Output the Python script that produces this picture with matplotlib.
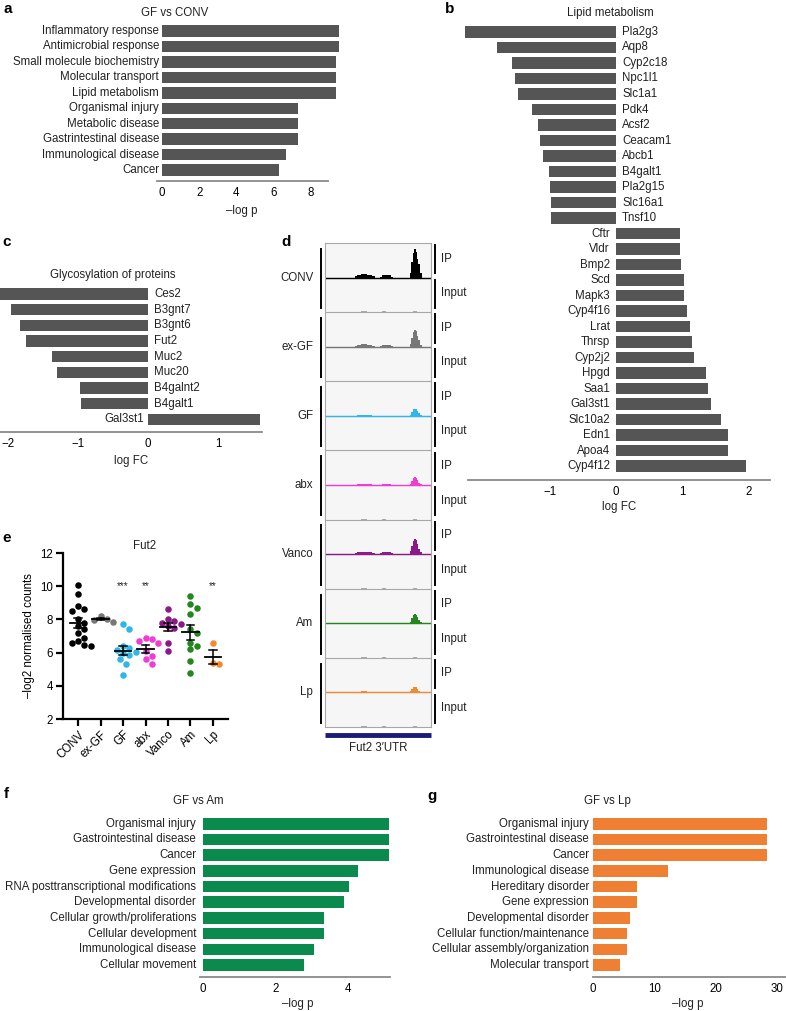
import matplotlib
matplotlib.use('Agg')
import matplotlib.pyplot as plt
import numpy as np

plt.rcParams['font.family'] = ['Liberation Sans', 'DejaVu Sans']
plt.rcParams['font.size'] = 8.3
plt.rcParams['text.color'] = '#222222'

W, H = 786, 1011

# panel a - GF vs CONV
a_terms = ['Inflammatory response', 'Antimicrobial response', 'Small molecule biochemistry',
           'Molecular transport', 'Lipid metabolism', 'Organismal injury', 'Metabolic disease',
           'Gastrintestinal disease', 'Immunological disease', 'Cancer']
a_logp = [9.5, 9.5, 9.35, 9.35, 9.35, 7.3, 7.3, 7.3, 6.67, 6.3]

# panel b - lipid metabolism
b_genes = ['Pla2g3', 'Aqp8', 'Cyp2c18', 'Npc1l1', 'Slc1a1', 'Pdk4', 'Acsf2', 'Ceacam1', 'Abcb1',
           'B4galt1', 'Pla2g15', 'Slc16a1', 'Tnsf10', 'Cftr', 'Vldr', 'Bmp2', 'Scd', 'Mapk3',
           'Cyp4f16', 'Lrat', 'Thrsp', 'Cyp2j2', 'Hpgd', 'Saa1', 'Gal3st1', 'Slc10a2', 'Edn1',
           'Apoa4', 'Cyp4f12']
b_logfc = [-2.27, -1.80, -1.56, -1.52, -1.48, -1.27, -1.18, -1.15, -1.10, -1.01, -0.99, -0.98,
           -0.98, 0.96, 0.97, 0.98, 1.02, 1.03, 1.07, 1.12, 1.15, 1.18, 1.36, 1.39, 1.43, 1.58,
           1.68, 1.69, 1.95]

# panel c - glycosylation of proteins
c_genes = ['Ces2', 'B3gnt7', 'B3gnt6', 'Fut2', 'Muc2', 'Muc20', 'B4galnt2', 'B4galt1', 'Gal3st1']
c_logfc = [-2.2, -1.96, -1.83, -1.74, -1.37, -1.30, -0.97, -0.96, 1.6]

# panel d - tracks
samples = ['CONV', 'ex-GF', 'GF', 'abx', 'Vanco', 'Am', 'Lp']
sample_colors = ['#000000', '#777777', '#2fb6ea', '#f23bd6', '#8b1a88', '#23861f', '#f28a30']
trk_x = [28, 30, 34, 40, 44, 47, 52, 54, 58, 62, 64, 80, 81.5, 83, 84.3, 85.5, 86.8, 88.2, 89.6, 91.2]
ip_cov = {
    'CONV':  [0.04, 0.08, 0.09, 0.08, 0.04, 0, 0.03, 0.06, 0.06, 0.03, 0, 0.12, 0.45, 0.7, 0.82, 0.75, 0.55, 0.38, 0.12, 0],
    'ex-GF': [0.03, 0.06, 0.07, 0.06, 0.03, 0, 0.02, 0.05, 0.05, 0.02, 0, 0.08, 0.25, 0.42, 0.48, 0.45, 0.3, 0.2, 0.06, 0],
    'GF':    [0, 0.02, 0.03, 0.02, 0, 0, 0, 0, 0, 0, 0, 0.03, 0.12, 0.2, 0.21, 0.2, 0.15, 0.08, 0.02, 0],
    'abx':   [0, 0.02, 0.03, 0.02, 0, 0, 0, 0.02, 0.02, 0, 0, 0.04, 0.12, 0.2, 0.22, 0.2, 0.14, 0.07, 0.02, 0],
    'Vanco': [0.03, 0.05, 0.06, 0.05, 0.03, 0, 0.02, 0.05, 0.05, 0.02, 0, 0.08, 0.25, 0.38, 0.44, 0.4, 0.28, 0.15, 0.05, 0],
    'Am':    [0, 0, 0, 0, 0, 0, 0, 0, 0, 0, 0, 0.04, 0.15, 0.25, 0.28, 0.25, 0.18, 0.1, 0.03, 0],
    'Lp':    [0, 0.02, 0.03, 0.02, 0, 0, 0, 0.01, 0.01, 0, 0, 0.03, 0.1, 0.15, 0.17, 0.15, 0.1, 0.05, 0.01, 0],
}
input_cov = [0, 0, 0.02, 0, 0, 0, 0, 0.02, 0, 0, 0, 0, 0, 0.02, 0.02, 0.02, 0, 0, 0, 0]

# panel e - Fut2 counts
e_vals = {
    'CONV':  [10.1, 9.55, 8.8, 8.6, 8.5, 8.0, 7.8, 7.6, 7.4, 7.2, 6.9, 6.7, 6.55, 6.45, 6.4],
    'ex-GF': [8.2, 8.05, 7.95, 7.85],
    'GF':    [7.7, 7.4, 6.4, 6.3, 6.15, 6.05, 5.95, 5.85, 5.6, 5.3, 4.65],
    'abx':   [6.9, 6.8, 6.7, 6.55, 6.1, 5.8, 5.6, 5.3],
    'Vanco': [8.6, 8.0, 7.9, 7.8, 7.7, 7.6, 7.5, 6.6, 6.1],
    'Am':    [9.4, 8.9, 8.7, 8.3, 7.4, 7.2, 6.6, 6.4, 6.2, 5.5, 4.75],
    'Lp':    [6.6, 5.35, 5.3],
}
e_stars = ['', '', '***', '**', '', '', '**']

# panel f - GF vs Am
f_terms = ['Organismal injury', 'Gastrointestinal disease', 'Cancer', 'Gene expression',
           'RNA posttranscriptional modifications', 'Developmental disorder',
           'Cellular growth/proliferations', 'Cellular development', 'Immunological disease',
           'Cellular movement']
f_logp = [5.13, 5.13, 5.13, 4.27, 4.03, 3.88, 3.33, 3.33, 3.05, 2.78]

# panel g - GF vs Lp
g_terms = ['Organismal injury', 'Gastrointestinal disease', 'Cancer', 'Immunological disease',
           'Hereditary disorder', 'Gene expression', 'Developmental disorder',
           'Cellular function/maintenance', 'Cellular assembly/organization', 'Molecular transport']
g_logp = [28.4, 28.4, 28.4, 12.2, 7.2, 7.2, 6.05, 5.6, 5.6, 4.4]

BAR_GREY = '#555555'
AXIS_GREY = '#8a8a8a'

fig = plt.figure(figsize=(W / 100, H / 100), dpi=100)


def rect(l, t, r, b):
    return [l / W, 1 - b / H, (r - l) / W, (b - t) / H]


def ftext(x, y, s, **kw):
    kw.setdefault('ha', 'center')
    kw.setdefault('va', 'center')
    fig.text(x / W, 1 - y / H, s, **kw)


def bar_axes(box, xlim, ylim, bounds, ticks):
    ax = fig.add_axes(rect(*box))
    ax.set_xlim(*xlim)
    ax.set_ylim(*ylim)
    for s in ['top', 'right', 'left']:
        ax.spines[s].set_visible(False)
    ax.spines['bottom'].set_color(AXIS_GREY)
    ax.spines['bottom'].set_linewidth(1.3)
    ax.spines['bottom'].set_bounds(*bounds)
    ax.set_yticks([])
    ax.set_xticks(ticks)
    ax.tick_params(axis='x', length=0, pad=4, labelsize=8.3)
    ax.patch.set_alpha(0)
    return ax


def term_panel(box, xlim, ylim, bounds, ticks, terms, vals, color, lab_off):
    ax = bar_axes(box, xlim, ylim, bounds, ticks)
    y = np.arange(len(terms))
    ax.barh(y, vals, height=0.74, color=color, clip_on=False)
    for yi, t in zip(y, terms):
        ax.text(lab_off, yi, t, ha='right', va='center', fontsize=8.3)
    return ax


# a
term_panel((157, 23, 345, 181), (-0.27, 9.83), (9.71, -0.52), (-0.27, 8.91), [0, 2, 4, 6, 8],
           a_terms, a_logp, BAR_GREY, -0.16)
ftext(175, 13, 'GF vs CONV')
ftext(242, 211, '\u2013log p')

# b
ax = bar_axes((462, 23, 786, 480), (-2.32, 2.56), (28.9, -0.58), (-2.23, 2.32), [-1, 0, 1, 2])
yb = np.arange(len(b_genes))
ax.barh(yb, b_logfc, height=0.72, color=BAR_GREY)
for yi, g, v in zip(yb, b_genes, b_logfc):
    if v < 0:
        ax.text(0.09, yi, g, ha='left', va='center', fontsize=8.3)
    else:
        ax.text(-0.09, yi, g, ha='right', va='center', fontsize=8.3)
ftext(610, 13, 'Lipid metabolism')
ftext(619, 507, 'log FC')

# c
ax = bar_axes((0, 283, 270, 432), (-2.11, 1.74), (8.8, -0.7), (-2.11, 1.63), [-2, -1, 0, 1])
yc = np.arange(len(c_genes))
ax.barh(yc, c_logfc, height=0.72, color=BAR_GREY)
for yi, g, v in zip(yc, c_genes, c_logfc):
    if v < 0:
        ax.text(0.09, yi, g, ha='left', va='center', fontsize=8.3)
    else:
        ax.text(-0.05, yi, g, ha='right', va='center', fontsize=8.3)
ftext(113, 275, 'Glycosylation of proteins')
ftext(131, 461, 'log FC')

# d
ax = fig.add_axes(rect(325, 243, 431, 727))
ax.set_xlim(0, 100)
ax.set_ylim(14, 0)
ax.set_facecolor('#f6f6f6')
ax.set_xticks([])
ax.set_yticks([])
for s in ax.spines.values():
    s.set_color('#a8a8a8')
    s.set_linewidth(0.8)
for i in range(1, 14):
    ax.axhline(i, color='#a8a8a8', lw=0.8)
for k, (name, col) in enumerate(zip(samples, sample_colors)):
    base = 2 * k + 1
    cov = np.array(ip_cov[name])
    ax.fill_between(trk_x, base, base - cov, step='post', color=col, lw=0)
    ax.plot([0, 100], [base, base], color=col, lw=1)
    base_in = 2 * k + 2
    ax.fill_between(trk_x, base_in, base_in - np.array(input_cov), step='post', color='#aaaaaa', lw=0)
    ax.plot([-3.8, -3.8], [2 * k + 0.17, 2 * k + 1.88], color='k', lw=1.4, clip_on=False)
    ax.text(-11, 2 * k + 1, name, ha='right', va='center', fontsize=8.3)
    for j, lab in enumerate(['IP', 'Input']):
        t = 2 * k + j
        ax.plot([103.8, 103.8], [t + 0.06, t + 0.88], color='k', lw=1.4, clip_on=False)
        ax.text(109, t + 0.45, lab, ha='left', va='center', fontsize=8.3)
ax.plot([0, 100], [14.24, 14.24], color='#1c1c78', lw=3.5, clip_on=False, solid_capstyle='butt')
ftext(378, 748, 'Fut2 3\u2032UTR')

# e
ax = fig.add_axes(rect(63, 553, 228, 719))
ax.set_xlim(-0.67, 6.67)
ax.set_ylim(2, 12)
for s in ['top', 'right']:
    ax.spines[s].set_visible(False)
for s in ['left', 'bottom']:
    ax.spines[s].set_linewidth(1.6)
ax.set_yticks([2, 4, 6, 8, 10, 12])
ax.set_xticks(range(len(samples)))
ax.set_xticklabels(samples, rotation=45, ha='right', rotation_mode='anchor')
ax.tick_params(direction='out', length=5, width=1.6, labelsize=8.3, pad=2)
ax.patch.set_alpha(0)

xs, ys, dpx = 22.5, 16.6, 6.3
for k, (name, col) in enumerate(zip(samples, sample_colors)):
    vals = e_vals[name]
    placed = []
    for v in vals:
        for step in [0, 1, -1, 2, -2, 3, -3, 4, -4]:
            off = step * dpx * 0.5 / xs
            if all(((off - po) * xs) ** 2 + ((v - pv) * ys) ** 2 >= dpx ** 2 * 0.9 for po, pv in placed):
                break
        placed.append((off, v))
    px = [k + p[0] for p in placed]
    ax.scatter(px, vals, s=22, color=col, lw=0, zorder=3, clip_on=False)
    m = np.mean(vals)
    sem = np.std(vals, ddof=1) / np.sqrt(len(vals))
    ax.plot([k - 0.36, k + 0.36], [m, m], color='k', lw=1.3, zorder=4)
    ax.plot([k, k], [m - sem, m + sem], color='k', lw=1.1, zorder=4)
    for yy in (m - sem, m + sem):
        ax.plot([k - 0.17, k + 0.17], [yy, yy], color='k', lw=1.1, zorder=4)
    if e_stars[k]:
        ax.text(k, 10.0, e_stars[k], ha='center', va='center', fontsize=7)
ax.set_ylabel('\u2013log2 normalised counts', fontsize=8.3, labelpad=4)
ftext(145, 546, 'Fut2')

# f
term_panel((200, 812, 392, 977), (-0.08, 5.2), (9.76, -0.75), (-0.08, 5.15), [0, 2, 4],
           f_terms, f_logp, '#0a8a4c', -0.19)
ftext(198, 801, 'GF vs Am')
ftext(298, 1004, '\u2013log p')

# g
term_panel((593, 812, 786, 977), (0, 31.5), (9.76, -0.75), (0, 31.5), [0, 10, 20, 30],
           g_terms, g_logp, '#ee7f33', -0.65)
ftext(607, 801, 'GF vs Lp')
ftext(688, 1004, '\u2013log p')

# panel letters
for lab, x, y in [('a', 8, 9), ('b', 450, 9), ('c', 7, 242), ('d', 286, 242),
                  ('e', 7, 538), ('f', 6, 794), ('g', 432, 796)]:
    ftext(x, y, lab, fontsize=11, fontweight='bold', color='k')

fig.savefig('out.png', dpi=100)
